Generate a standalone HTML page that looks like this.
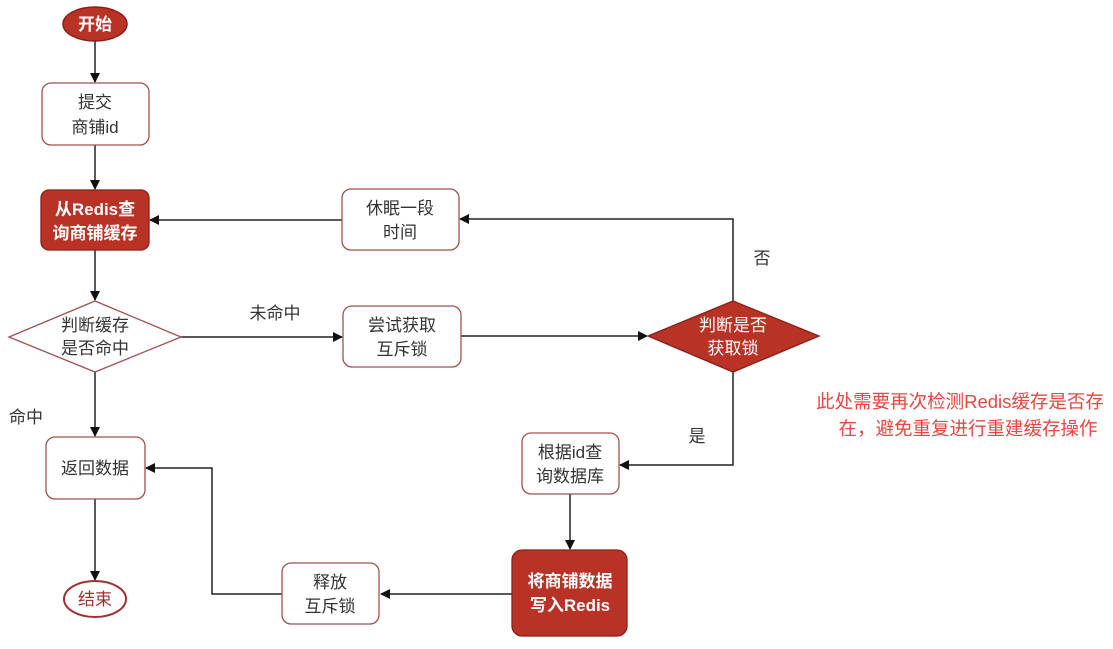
<!DOCTYPE html>
<html><head><meta charset="utf-8"><style>
html,body{margin:0;padding:0;background:#fff;}
svg{display:block;}
text{font-family:"Liberation Sans","Noto Sans CJK SC",sans-serif;}
</style></head><body>
<svg width="1113" height="649" viewBox="0 0 1113 649" xmlns="http://www.w3.org/2000/svg">
<defs>
<marker id="a" markerWidth="10" markerHeight="10" refX="9" refY="5" orient="auto" markerUnits="userSpaceOnUse">
<path d="M0,0 L10,5 L0,10 z" fill="#111"/>
</marker>
</defs>
<g stroke="#222" stroke-width="1.5" fill="none">
<line x1="95" y1="41" x2="95" y2="82" marker-end="url(#a)"/>
<line x1="95" y1="145" x2="95" y2="189" marker-end="url(#a)"/>
<line x1="95" y1="250" x2="95" y2="300" marker-end="url(#a)"/>
<line x1="95" y1="372" x2="95" y2="436" marker-end="url(#a)"/>
<line x1="95" y1="499" x2="95" y2="580" marker-end="url(#a)"/>
<line x1="181" y1="337" x2="342" y2="337" marker-end="url(#a)"/>
<line x1="461" y1="336" x2="647" y2="336" marker-end="url(#a)"/>
<polyline points="733,301 733,219 460,219" marker-end="url(#a)"/>
<line x1="342" y1="220" x2="150" y2="220" marker-end="url(#a)"/>
<polyline points="733,372 733,465 620,465" marker-end="url(#a)"/>
<line x1="570" y1="494" x2="570" y2="549" marker-end="url(#a)"/>
<line x1="512" y1="594" x2="381" y2="594" marker-end="url(#a)"/>
<polyline points="282,594 212,594 212,468 146,468" marker-end="url(#a)"/>
</g>
<ellipse cx="95" cy="24" rx="32" ry="17" fill="#b83226" stroke="#8a1f18" stroke-width="1.5"/>
<text x="95" y="30" font-size="17" fill="#fff" text-anchor="middle" font-weight="bold">开始</text>
<rect x="42" y="83" width="107" height="62" rx="9" fill="#fff" stroke="#a05050" stroke-width="1.3"/>
<text x="95" y="108" font-size="17" fill="#333" text-anchor="middle">提交</text>
<text x="95" y="133" font-size="17" fill="#333" text-anchor="middle">商铺id</text>
<rect x="41" y="190" width="108" height="60" rx="8" fill="#b83226" stroke="#8a1f18" stroke-width="1.3"/>
<text x="95" y="215" font-size="17" fill="#fff" text-anchor="middle" font-weight="bold">从Redis查</text>
<text x="95" y="239" font-size="17" fill="#fff" text-anchor="middle" font-weight="bold">询商铺缓存</text>
<polygon points="95,301 181,337 95,372 9,337" fill="#fff" stroke="#a05050" stroke-width="1.3"/>
<text x="95" y="331" font-size="17" fill="#333" text-anchor="middle">判断缓存</text>
<text x="95" y="354" font-size="17" fill="#333" text-anchor="middle">是否命中</text>
<rect x="342" y="189" width="117" height="61" rx="9" fill="#fff" stroke="#a05050" stroke-width="1.3"/>
<text x="400" y="214" font-size="17" fill="#333" text-anchor="middle">休眠一段</text>
<text x="400" y="238" font-size="17" fill="#333" text-anchor="middle">时间</text>
<rect x="343" y="306" width="118" height="61" rx="9" fill="#fff" stroke="#a05050" stroke-width="1.3"/>
<text x="402" y="331" font-size="17" fill="#333" text-anchor="middle">尝试获取</text>
<text x="402" y="355" font-size="17" fill="#333" text-anchor="middle">互斥锁</text>
<polygon points="733,301 819,336 733,372 648,336" fill="#b83226" stroke="#8a1f18" stroke-width="1.3"/>
<text x="733" y="331" font-size="17" fill="#fff" text-anchor="middle">判断是否</text>
<text x="733" y="354" font-size="17" fill="#fff" text-anchor="middle">获取锁</text>
<rect x="522" y="433" width="97" height="61" rx="9" fill="#fff" stroke="#a05050" stroke-width="1.3"/>
<text x="570" y="458" font-size="17" fill="#333" text-anchor="middle">根据id查</text>
<text x="570" y="482" font-size="17" fill="#333" text-anchor="middle">询数据库</text>
<rect x="512" y="550" width="115" height="86" rx="10" fill="#b83226" stroke="#8a1f18" stroke-width="1.3"/>
<text x="570" y="587" font-size="17" fill="#fff" text-anchor="middle" font-weight="bold">将商铺数据</text>
<text x="570" y="611" font-size="17" fill="#fff" text-anchor="middle" font-weight="bold">写入Redis</text>
<rect x="282" y="563" width="97" height="61" rx="9" fill="#fff" stroke="#a05050" stroke-width="1.3"/>
<text x="330" y="588" font-size="17" fill="#333" text-anchor="middle">释放</text>
<text x="330" y="612" font-size="17" fill="#333" text-anchor="middle">互斥锁</text>
<rect x="46" y="437" width="99" height="62" rx="9" fill="#fff" stroke="#a05050" stroke-width="1.3"/>
<text x="95" y="474" font-size="17" fill="#333" text-anchor="middle">返回数据</text>
<ellipse cx="95" cy="599" rx="31" ry="18" fill="#fff" stroke="#a03030" stroke-width="2"/>
<text x="95" y="605" font-size="17" fill="#a03030" text-anchor="middle">结束</text>
<text x="275" y="319" font-size="17" fill="#333" text-anchor="middle">未命中</text>
<text x="762" y="264" font-size="17" fill="#333" text-anchor="middle">否</text>
<text x="697" y="442" font-size="17" fill="#333" text-anchor="middle">是</text>
<text x="26" y="423" font-size="17" fill="#333" text-anchor="middle">命中</text>
<text x="960" y="408" font-size="18.5" fill="#e8463e" text-anchor="middle">此处需要再次检测Redis缓存是否存</text>
<text x="968" y="435" font-size="18.5" fill="#e8463e" text-anchor="middle">在，避免重复进行重建缓存操作</text>
</svg>
</body></html>
